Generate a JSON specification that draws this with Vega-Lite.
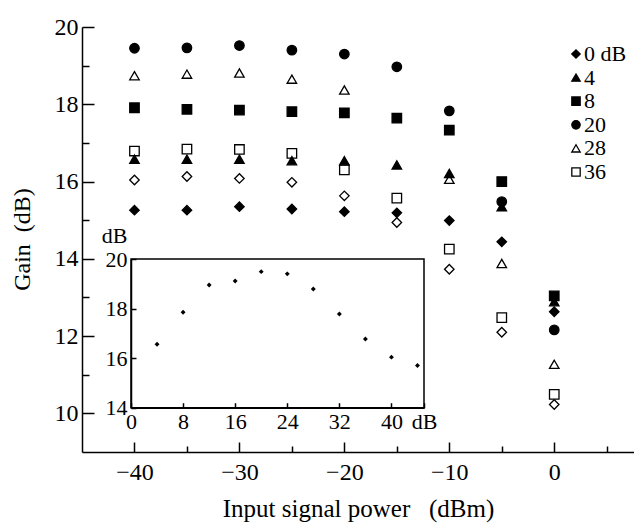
{
  "$schema": "https://vega.github.io/schema/vega-lite/v6.json",
  "width": 552,
  "height": 425,
  "autosize": "none",
  "padding": {"left": 82, "top": 27, "right": 0, "bottom": 73},
  "background": "white",
  "config": {
    "view": {"stroke": null},
    "font": "Liberation Serif",
    "axis": {"grid": false, "domainColor": "black", "domainWidth": 1.5, "tickColor": "black", "tickWidth": 1.5, "labelColor": "black", "titleColor": "black", "labelFont": "Liberation Serif", "titleFont": "Liberation Serif", "titleFontWeight": "normal", "labelFlush": false, "labelOverlap": false}
  },
  "layer": [
    {
      "data": {"values": [
        {"power": -40, "gain": 16.04, "series": "40"},
        {"power": -35, "gain": 16.13, "series": "40"},
        {"power": -30, "gain": 16.08, "series": "40"},
        {"power": -25, "gain": 15.98, "series": "40"},
        {"power": -20, "gain": 15.63, "series": "40"},
        {"power": -15, "gain": 14.94, "series": "40"},
        {"power": -10, "gain": 13.73, "series": "40"},
        {"power": -5, "gain": 12.10, "series": "40"},
        {"power": 0, "gain": 10.23, "series": "40"},
        {"power": -40, "gain": 16.79, "series": "36"},
        {"power": -35, "gain": 16.84, "series": "36"},
        {"power": -30, "gain": 16.83, "series": "36"},
        {"power": -25, "gain": 16.73, "series": "36"},
        {"power": -20, "gain": 16.30, "series": "36"},
        {"power": -15, "gain": 15.57, "series": "36"},
        {"power": -10, "gain": 14.25, "series": "36"},
        {"power": -5, "gain": 12.48, "series": "36"},
        {"power": 0, "gain": 10.49, "series": "36"},
        {"power": -40, "gain": 18.74, "series": "28"},
        {"power": -35, "gain": 18.78, "series": "28"},
        {"power": -30, "gain": 18.81, "series": "28"},
        {"power": -25, "gain": 18.65, "series": "28"},
        {"power": -20, "gain": 18.37, "series": "28"},
        {"power": -10, "gain": 16.06, "series": "28"},
        {"power": -5, "gain": 13.88, "series": "28"},
        {"power": 0, "gain": 11.27, "series": "28"},
        {"power": -40, "gain": 19.45, "series": "20"},
        {"power": -35, "gain": 19.46, "series": "20"},
        {"power": -30, "gain": 19.52, "series": "20"},
        {"power": -25, "gain": 19.40, "series": "20"},
        {"power": -20, "gain": 19.30, "series": "20"},
        {"power": -15, "gain": 18.97, "series": "20"},
        {"power": -10, "gain": 17.83, "series": "20"},
        {"power": -5, "gain": 15.48, "series": "20"},
        {"power": 0, "gain": 12.16, "series": "20"},
        {"power": -40, "gain": 17.91, "series": "8"},
        {"power": -35, "gain": 17.87, "series": "8"},
        {"power": -30, "gain": 17.85, "series": "8"},
        {"power": -25, "gain": 17.81, "series": "8"},
        {"power": -20, "gain": 17.78, "series": "8"},
        {"power": -15, "gain": 17.64, "series": "8"},
        {"power": -10, "gain": 17.33, "series": "8"},
        {"power": -5, "gain": 16.00, "series": "8"},
        {"power": 0, "gain": 13.04, "series": "8"},
        {"power": -40, "gain": 16.58, "series": "4"},
        {"power": -35, "gain": 16.58, "series": "4"},
        {"power": -30, "gain": 16.58, "series": "4"},
        {"power": -25, "gain": 16.54, "series": "4"},
        {"power": -20, "gain": 16.54, "series": "4"},
        {"power": -15, "gain": 16.43, "series": "4"},
        {"power": -10, "gain": 16.21, "series": "4"},
        {"power": -5, "gain": 15.35, "series": "4"},
        {"power": 0, "gain": 12.89, "series": "4"},
        {"power": -40, "gain": 15.26, "series": "0"},
        {"power": -35, "gain": 15.26, "series": "0"},
        {"power": -30, "gain": 15.35, "series": "0"},
        {"power": -25, "gain": 15.29, "series": "0"},
        {"power": -20, "gain": 15.22, "series": "0"},
        {"power": -15, "gain": 15.19, "series": "0"},
        {"power": -10, "gain": 14.99, "series": "0"},
        {"power": -5, "gain": 14.44, "series": "0"},
        {"power": 0, "gain": 12.63, "series": "0"}
      ]},
      "mark": {"type": "point", "size": 90, "strokeWidth": 1.3, "opacity": 1},
      "encoding": {
        "x": {
          "field": "power", "type": "quantitative",
          "scale": {"domain": [-45, 7.6], "nice": false, "zero": false},
          "axis": {
            "orient": "bottom",
            "values": [-40, -35, -30, -25, -20, -15, -10, -5, 0, 5],
            "labelExpr": "datum.value % 10 === 0 ? datum.label : ''",
            "tickSize": {"condition": {"test": "datum.value % 10 === 0", "value": -10}, "value": -6},
            "labelFontSize": 24, "labelPadding": 18,
            "title": "Input signal power\u00a0\u00a0\u00a0(dBm)", "titleFontSize": 25,
            "titleBaseline": "alphabetic", "titleY": 64
          }
        },
        "y": {
          "field": "gain", "type": "quantitative",
          "scale": {"domain": [9, 20], "nice": false, "zero": false},
          "axis": {
            "orient": "left",
            "values": [10, 11, 12, 13, 14, 15, 16, 17, 18, 19, 20],
            "labelExpr": "datum.value % 2 === 0 ? datum.label : ''",
            "tickSize": {"condition": {"test": "datum.value % 2 === 0", "value": -12}, "value": -7},
            "labelFontSize": 24, "labelPadding": 16,
            "title": "Gain\u00a0\u00a0(dB)", "titleFontSize": 24,
            "titleX": -60, "titleY": 212, "titleAngle": -90, "titleAlign": "center", "titleBaseline": "middle"
          }
        },
        "shape": {
          "field": "series", "type": "nominal",
          "scale": {"domain": ["0", "4", "8", "20", "28", "36", "40"], "range": ["diamond", "triangle-up", "square", "circle", "triangle-up", "square", "diamond"]},
          "legend": {"values": ["0", "4", "8", "20", "28", "36"], "title": null, "orient": "none", "legendX": 483, "legendY": 16, "labelExpr": "datum.label === '0' ? '0 dB' : datum.label", "labelFont": "Liberation Serif", "labelFontSize": 22, "labelColor": "black", "labelOffset": -3, "symbolSize": 70, "symbolStrokeWidth": 1.3, "rowPadding": 1.6, "padding": 0}
        },
        "fill": {
          "field": "series", "type": "nominal",
          "scale": {"domain": ["0", "4", "8", "20", "28", "36", "40"], "range": ["black", "black", "black", "black", "white", "white", "white"]},
          "legend": {"values": ["0", "4", "8", "20", "28", "36"], "title": null, "orient": "none", "legendX": 483, "legendY": 16, "labelExpr": "datum.label === '0' ? '0 dB' : datum.label", "labelFont": "Liberation Serif", "labelFontSize": 22, "labelColor": "black", "labelOffset": -3, "symbolSize": 70, "symbolStrokeWidth": 1.3, "rowPadding": 1.6, "padding": 0}
        },
        "stroke": {
          "field": "series", "type": "nominal",
          "scale": {"domain": ["0", "4", "8", "20", "28", "36", "40"], "range": ["black", "black", "black", "black", "black", "black", "black"]},
          "legend": {"values": ["0", "4", "8", "20", "28", "36"], "title": null, "orient": "none", "legendX": 483, "legendY": 16, "labelExpr": "datum.label === '0' ? '0 dB' : datum.label", "labelFont": "Liberation Serif", "labelFontSize": 22, "labelColor": "black", "labelOffset": -3, "symbolSize": 70, "symbolStrokeWidth": 1.3, "rowPadding": 1.6, "padding": 0}
        }
      }
    },
    {
      "data": {"values": [{}]},
      "mark": {"type": "rect", "filled": false, "stroke": "black", "strokeWidth": 1.5},
      "encoding": {
        "x": {"datum": 0, "type": "quantitative", "scale": {"domain": [0, 45], "range": [49, 342], "nice": false, "zero": false}, "axis": null},
        "x2": {"datum": 45},
        "y": {"datum": 14, "type": "quantitative", "scale": {"domain": [14, 20], "range": [380.7, 232], "nice": false, "zero": false}, "axis": null},
        "y2": {"datum": 20}
      }
    },
    {
      "data": {"values": [
        {"pump": 4, "gain": 16.56},
        {"pump": 8, "gain": 17.85},
        {"pump": 12, "gain": 18.95},
        {"pump": 16, "gain": 19.11},
        {"pump": 20, "gain": 19.49},
        {"pump": 24, "gain": 19.40},
        {"pump": 28, "gain": 18.79},
        {"pump": 32, "gain": 17.78},
        {"pump": 36, "gain": 16.77},
        {"pump": 40, "gain": 16.04},
        {"pump": 44, "gain": 15.70}
      ]},
      "mark": {"type": "point", "shape": "diamond", "filled": true, "color": "black", "size": 24, "opacity": 1},
      "encoding": {
        "x": {
          "field": "pump", "type": "quantitative",
          "scale": {"domain": [0, 45], "range": [49, 342], "nice": false, "zero": false},
          "axis": {
            "orient": "bottom", "offset": -44.3,
            "values": [0, 8, 16, 24, 32, 40, 45],
            "labelExpr": "datum.value === 45 ? 'dB' : datum.label",
            "tickSize": -5, "labelPadding": 9, "labelFontSize": 22, "title": null
          }
        },
        "y": {
          "field": "gain", "type": "quantitative",
          "scale": {"domain": [14, 20], "range": [380.7, 232], "nice": false, "zero": false},
          "axis": {
            "orient": "left", "offset": -49,
            "values": [14, 16, 18, 20],
            "tickSize": -5, "labelPadding": 9, "labelFontSize": 22,
            "title": "dB", "titleFontSize": 22, "titleAngle": 0,
            "titleX": -17, "titleY": 208, "titleAlign": "center", "titleBaseline": "middle"
          }
        }
      }
    }
  ],
  "resolve": {"scale": {"x": "independent", "y": "independent"}, "axis": {"x": "independent", "y": "independent"}}
}
